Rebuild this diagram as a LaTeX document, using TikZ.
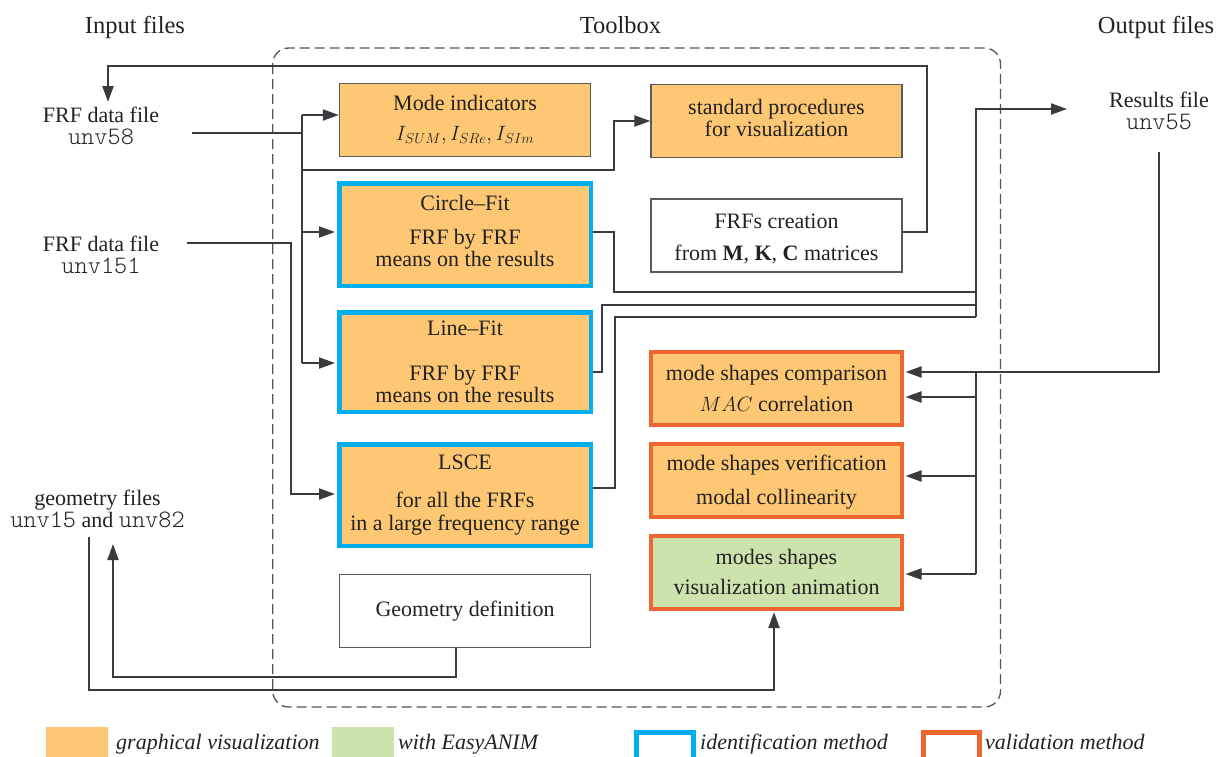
\documentclass[tikz,border=0pt]{standalone}
\usepackage{fontspec}
\setmainfont{Liberation Serif}
\setmonofont[Scale=1.14]{lmmonolt10-regular.otf}
\usetikzlibrary{arrows.meta,calc}
\definecolor{lnc}{HTML}{3A3A3F}
\definecolor{bxg}{HTML}{5A5A5A}
\definecolor{orf}{HTML}{FDC773}
\definecolor{grf}{HTML}{CDE3AD}
\definecolor{blb}{HTML}{00AEEF}
\definecolor{orb}{HTML}{EF6630}
\definecolor{frm}{HTML}{555555}
\definecolor{txt}{HTML}{222222}
\begin{document}
\begin{tikzpicture}[x=1pt,y=-1pt,
  every node/.style={font=\fontsize{22}{22.5}\selectfont, inner sep=0pt, text=txt},
  conn/.style={draw=lnc, line width=2pt},
  arr/.style={conn, -{Triangle[length=16pt,width=11pt]}},
  thinbox/.style={draw=bxg, line width=1.2pt, minimum width=251pt, minimum height=73pt, align=center},
  idbox/.style={draw=blb, line width=4.5pt, fill=orf, minimum width=251.5pt, align=center},
  valbox/.style={draw=orb, line width=4pt, minimum width=251pt, minimum height=73pt, align=center},
  hdr/.style={anchor=base, font=\fontsize{24.5}{26}\selectfont},
  lgtxt/.style={anchor=base west, font=\fontsize{22}{22}\selectfont\itshape},
  swatch/.style={minimum width=62pt, minimum height=40pt, anchor=north west},
  frame/.style={draw=frm, line width=1.3pt, dash pattern=on 10pt off 5pt, rounded corners=16pt}
]
\useasboundingbox (0,0) rectangle (1226,756);
\clip (0,0) rectangle (1226,756);

% toolbox frame
\draw[frame] (272.7,48) rectangle (1000.5,707);

% headers
\node[hdr] (hin) at (135,33) {Input files};
\node[hdr] (htb) at (620.5,33) {Toolbox};
\node[hdr] (hout) at (1156,33) {Output files};

% files
\node[align=center] (in1) at (101,126) {FRF data file\\\texttt{unv58}};
\node[align=center] (in2) at (101,255) {FRF data file\\\texttt{unv151}};
\node[align=center] (in3) at (97.5,509) {geometry files\\\texttt{unv15} and \texttt{unv82}};
\node[align=center] (out1) at (1159,111) {Results file\\\texttt{unv55}};

% boxes
\node[thinbox, fill=orf] (mode) at (465,120) {Mode indicators\\[8pt]$I_{SUM}, I_{SRe}, I_{SIm}$};
\node[thinbox, fill=orf] (std) at (776.5,121) {standard procedures\\for visualization\rule[-6pt]{0pt}{0pt}};
\node[thinbox, fill=white] (frfc) at (776.5,235.5) {\rule{0pt}{21pt}FRFs creation\\[10pt]from \textbf{M}, \textbf{K}, \textbf{C} matrices};
\node[idbox, minimum height=102.5pt] (cf) at (465,234.5) {Circle--Fit\\[11pt]FRF by FRF\\means on the results\rule[-7pt]{0pt}{0pt}};
\node[idbox, minimum height=99.5pt] (lf) at (465,362) {Line--Fit\\[22pt]FRF by FRF\\means on the results};
\node[idbox, minimum height=101.5pt] (lsce) at (465,495) {LSCE\\[16pt]for all the FRFs\\in a large frequency range};
\node[thinbox, fill=white] (geo) at (465,611) {Geometry definition};
\node[valbox, fill=orf] (mac) at (776.5,388.5) {mode shapes comparison\\[9pt]$MAC$ correlation};
\node[valbox, fill=orf] (ver) at (776.5,480.5) {\rule{0pt}{19pt}mode shapes verification\\[11pt]modal collinearity};
\node[valbox, fill=grf] (anim) at (776.5,572) {modes shapes\\[8pt]visualization animation};

% input unv58 and its trunk
\coordinate (s58) at (192,133);
\coordinate (t1) at (302,115);
\coordinate (t2) at (302,170);
\coordinate (t3) at (302,232);
\coordinate (t4) at (302,363);
\draw[conn] (s58) -- (s58 -| t1);
\draw[conn] (t1) -- (t4);
\draw[arr] (t1) -- (t1 -| mode.west);
\draw[arr] (t2) -| (614,121) -- (std.west);
\draw[arr, shorten >=2pt] (t3) -- (t3 -| cf.west);
\draw[arr, shorten >=2pt] (t4) -- (t4 -| lf.west);

% input unv151
\coordinate (s151) at (187,243);
\coordinate (t5) at (291,494);
\draw[arr, shorten >=2pt] (s151) -| (t5) -- (t5 -| lsce.west);

% FRFs creation feedback
\coordinate (fb) at (108,102);
\draw[arr] ($(frfc.east)+(0,-3.5)$) -| (927,66) -| (fb);

% outputs towards results file
\draw[conn] ($(cf.east)+(0,-2.5)$) -| (614,292) -- (976,292);
\draw[conn] ($(lf.east)+(0,10)$) -| (602,305) -- (976,305);
\draw[conn] ($(lsce.east)+(0,-7)$) -| (615,317) -- (976,317);
\coordinate (rf) at (1067,109);
\draw[arr] (976,317) |- (rf);

% results file back to validation
\coordinate (r0) at (1159,152);
\coordinate (r1) at (976,372);
\coordinate (r2) at (976,397);
\coordinate (r3) at (976,476);
\coordinate (r4) at (976,574);
\draw[arr, shorten >=1.5pt] (r0) |- (r1 -| mac.east);
\draw[conn] (r1) -- (r4);
\draw[arr, shorten >=1.5pt] (r2) -- (r2 -| mac.east);
\draw[arr, shorten >=1.5pt] (r3) -- (r3 -| ver.east);
\draw[arr, shorten >=1.5pt] (r4) -- (r4 -| anim.east);

% geometry
\coordinate (gd) at ($(geo.south)+(-9,0)$);
\coordinate (g1) at (113,677);
\coordinate (g2) at (113,544);
\draw[arr] (gd) |- (g1) -- (g2);
\coordinate (g0) at (89,537);
\coordinate (a1) at (774,690);
\draw[arr, shorten >=1.5pt] (g0) |- (a1) -- (a1 |- anim.south);

% legend
\node[swatch, fill=orf] (lg1) at (46,727) {};
\node[lgtxt] (lt1) at (116,749) {graphical visualization};
\node[swatch, fill=grf] (lg2) at (332,727) {};
\node[lgtxt] (lt2) at (398,749) {with EasyANIM};
\node[swatch, draw=blb, line width=5pt, minimum width=57pt] (lg3) at (633.5,729.5) {};
\node[lgtxt] (lt3) at (700,749) {identification method};
\node[swatch, draw=orb, line width=5pt, minimum width=56pt] (lg4) at (920.5,729.5) {};
\node[lgtxt] (lt4) at (985,749) {validation method};
\end{tikzpicture}
\end{document}
